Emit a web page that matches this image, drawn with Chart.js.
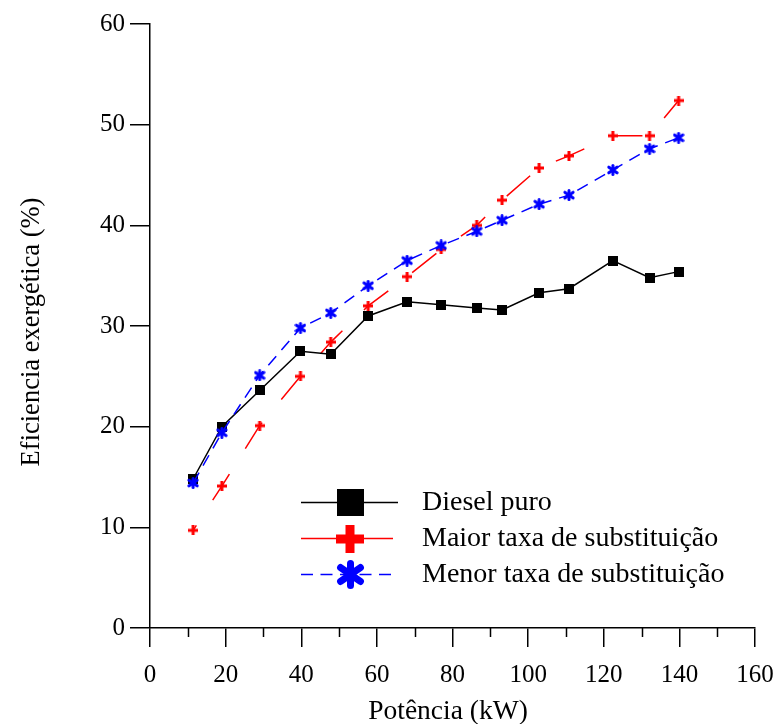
<!DOCTYPE html>
<html>
<head>
<meta charset="utf-8">
<script src="https://cdn.jsdelivr.net/npm/chart.js@4/dist/chart.umd.min.js"></script>
<style>
  html, body { margin: 0; padding: 0; background: #ffffff; }
  canvas { display: block; }
</style>
</head>
<body>
<canvas id="chart" width="779" height="724"></canvas>
<script>
// Engine power (kW) at each test point
const power = [11.4, 19.0, 29.0, 39.8, 47.8, 57.7, 68.0, 77.0, 86.4, 93.1, 102.9, 110.8, 122.4, 132.1, 139.8];

// Exergetic efficiency (%) for each fuel configuration
const dieselPuro = [14.8, 20.0, 23.6, 27.5, 27.2, 31.0, 32.4, 32.1, 31.8, 31.6, 33.3, 33.7, 36.5, 34.8, 35.4];
const maiorTaxa  = [9.7, 14.1, 20.1, 25.0, 28.4, 32.0, 34.9, 37.6, 40.0, 42.5, 45.7, 46.9, 48.9, 48.9, 52.4];
const menorTaxa  = [14.4, 19.4, 25.1, 29.8, 31.3, 34.0, 36.5, 38.0, 39.4, 40.5, 42.1, 43.0, 45.5, 47.6, 48.7];

const seriesNames = ['Diesel puro', 'Maior taxa de substituição', 'Menor taxa de substituição'];

// Axis ticks
const xTicks = [0, 20, 40, 60, 80, 100, 120, 140, 160];
const xMinorTicks = [10, 30, 50, 70, 90, 110, 130, 150];
const yTicks = [0, 10, 20, 30, 40, 50, 60];

const xTitle = 'Potência (kW)';
const yTitle = 'Eficiencia exergética (%)';

const FONT = "'Liberation Serif', 'Times New Roman', serif";

// ---- marker images ----
function makeCanvas(w, h) {
  const c = document.createElement('canvas');
  c.width = w; c.height = h === undefined ? w : h;
  return c;
}
function squareMarker(side, color) {
  const c = makeCanvas(side);
  const g = c.getContext('2d');
  g.fillStyle = color;
  g.fillRect(0, 0, side, side);
  return c;
}
function plusMarker(size, thick, color) {
  const c = makeCanvas(size);
  const g = c.getContext('2d');
  const h = size / 2;
  g.fillStyle = color;
  g.fillRect(h - thick / 2, 0, thick, size);
  g.fillRect(0, h - thick / 2, size, thick);
  return c;
}
function asteriskMarker(size, thick, color) {
  const full = Math.ceil(size + thick);
  const c = makeCanvas(full);
  const g = c.getContext('2d');
  const h = full / 2, r = size / 2;
  g.strokeStyle = color;
  g.lineWidth = thick;
  g.lineCap = 'round';
  // one vertical arm and two diagonal arms
  [[90, 1], [35, 1.1], [145, 1.1]].forEach(([a, k]) => {
    const t = a * Math.PI / 180;
    const dx = r * k * Math.cos(t), dy = r * Math.min(1, k * Math.sin(t));
    g.beginPath();
    g.moveTo(h - dx, h - dy);
    g.lineTo(h + dx, h + dy);
    g.stroke();
  });
  return c;
}

const points = vals => vals.map((v, i) => ({ x: power[i], y: v }));

// ---- plugins ----
const minorTicks = {
  id: 'minorTicks',
  afterDraw(chart, args, opts) {
    const { ctx, chartArea } = chart;
    const xs = chart.scales.x;
    ctx.save();
    ctx.strokeStyle = '#000';
    ctx.lineWidth = 1.5;
    ctx.beginPath();
    xMinorTicks.forEach(v => {
      const px = Math.round(xs.getPixelForValue(v)) + 0.5;
      ctx.moveTo(px, chartArea.bottom);
      ctx.lineTo(px, chartArea.bottom + opts.length);
    });
    ctx.stroke();
    ctx.restore();
  }
};

const axisTitles = {
  id: 'axisTitles',
  afterDraw(chart, args, opts) {
    const ctx = chart.ctx;
    ctx.save();
    ctx.fillStyle = '#000';
    ctx.textAlign = 'center';
    ctx.textBaseline = 'alphabetic';
    ctx.font = opts.xFont;
    ctx.fillText(xTitle, opts.xCenter, opts.xBaseline);
    ctx.translate(opts.yBaseline, opts.yCenter);
    ctx.rotate(-Math.PI / 2);
    ctx.font = opts.yFont;
    ctx.fillText(yTitle, 0, 0);
    ctx.restore();
  }
};

const legendBox = {
  id: 'legendBox',
  afterDraw(chart, args, opts) {
    const ctx = chart.ctx;
    chart.data.datasets.forEach((ds, i) => {
      const y = opts.top + i * opts.rowGap;
      const end = ds.legendLineEnd;
      ctx.save();
      ctx.strokeStyle = ds.borderColor;
      ctx.lineWidth = ds.borderWidth;
      ctx.setLineDash(ds.legendDash || []);
      ctx.beginPath();
      ctx.moveTo(opts.lineStart, y);
      ctx.lineTo(end, y);
      ctx.stroke();
      ctx.setLineDash([]);
      const m = ds.legendMarker;
      ctx.drawImage(m, Math.round(opts.markerX - m.width / 2), Math.round(y - m.height / 2));
      ctx.fillStyle = '#000';
      ctx.font = opts.font;
      ctx.textBaseline = 'middle';
      ctx.textAlign = 'left';
      ctx.fillText(ds.label, opts.textX, y);
      ctx.restore();
    });
  }
};

const tickFont = { family: FONT, size: 25, lineHeight: 1 };

new Chart(document.getElementById('chart'), {
  type: 'line',
  data: {
    datasets: [
      {
        label: seriesNames[0],
        data: points(dieselPuro),
        borderColor: '#000000',
        backgroundColor: '#000000',
        borderWidth: 1.5,
        pointStyle: squareMarker(10, '#000000'),
        pointRadius: 5,
        legendMarker: squareMarker(27, '#000000'),
        legendDash: [],
        legendLineEnd: 398,
        order: 1
      },
      {
        label: seriesNames[1],
        data: points(maiorTaxa),
        borderColor: '#ff0000',
        backgroundColor: '#ff0000',
        borderWidth: 1.5,
        borderDash: [31, 30],
        borderDashOffset: 25,
        pointStyle: plusMarker(10, 3, '#ff0000'),
        pointRadius: 5,
        legendMarker: plusMarker(28, 9, '#ff0000'),
        legendDash: [],
        legendLineEnd: 393,
        order: 2
      },
      {
        label: seriesNames[2],
        data: points(menorTaxa),
        borderColor: '#0000ff',
        backgroundColor: '#0000ff',
        borderWidth: 1.5,
        borderDash: [12, 8],
        pointStyle: asteriskMarker(9, 3, '#0000ff'),
        pointRadius: 5,
        legendMarker: asteriskMarker(22, 7, '#0000ff'),
        legendDash: [12, 7.5],
        legendLineEnd: 393,
        order: 0
      }
    ]
  },
  options: {
    responsive: false,
    animation: false,
    devicePixelRatio: 1,
    layout: { padding: { top: 24, right: 24, left: 0, bottom: 0 } },
    elements: { line: { tension: 0, fill: false } },
    plugins: {
      legend: { display: false },
      tooltip: { enabled: false },
      minorTicks: { length: 9 },
      axisTitles: {
        xFont: `27.5px ${FONT}`, xCenter: 448, xBaseline: 719,
        yFont: `26.5px ${FONT}`, yCenter: 332, yBaseline: 39
      },
      legendBox: { top: 502.5, rowGap: 36, lineStart: 301, markerX: 350, textX: 422, font: `28px ${FONT}` }
    },
    scales: {
      x: {
        type: 'linear',
        min: 0, max: 160,
        afterBuildTicks: s => { s.ticks = xTicks.map(v => ({ value: v })); },
        afterFit: s => { s.height = 96; s.paddingLeft = 0; s.paddingRight = 0; },
        ticks: { font: tickFont, color: '#000', padding: 15.5, maxRotation: 0, autoSkip: false },
        grid: { display: true, drawOnChartArea: false, drawTicks: true, tickLength: 19, color: '#000', lineWidth: 1.5 },
        border: { display: true, color: '#000', width: 1.5 },
        title: { display: false }
      },
      y: {
        type: 'linear',
        min: 0, max: 60,
        afterBuildTicks: s => { s.ticks = yTicks.map(v => ({ value: v })); },
        afterFit: s => { s.width = 150; s.paddingTop = 0; s.paddingBottom = 0; },
        ticks: { font: tickFont, color: '#000', padding: 5, autoSkip: false },
        grid: { display: true, drawOnChartArea: false, drawTicks: true, tickLength: 20, color: '#000', lineWidth: 1.5 },
        border: { display: true, color: '#000', width: 1.5 },
        title: { display: false }
      }
    }
  },
  plugins: [minorTicks, axisTitles, legendBox]
});
</script>
</body>
</html>
